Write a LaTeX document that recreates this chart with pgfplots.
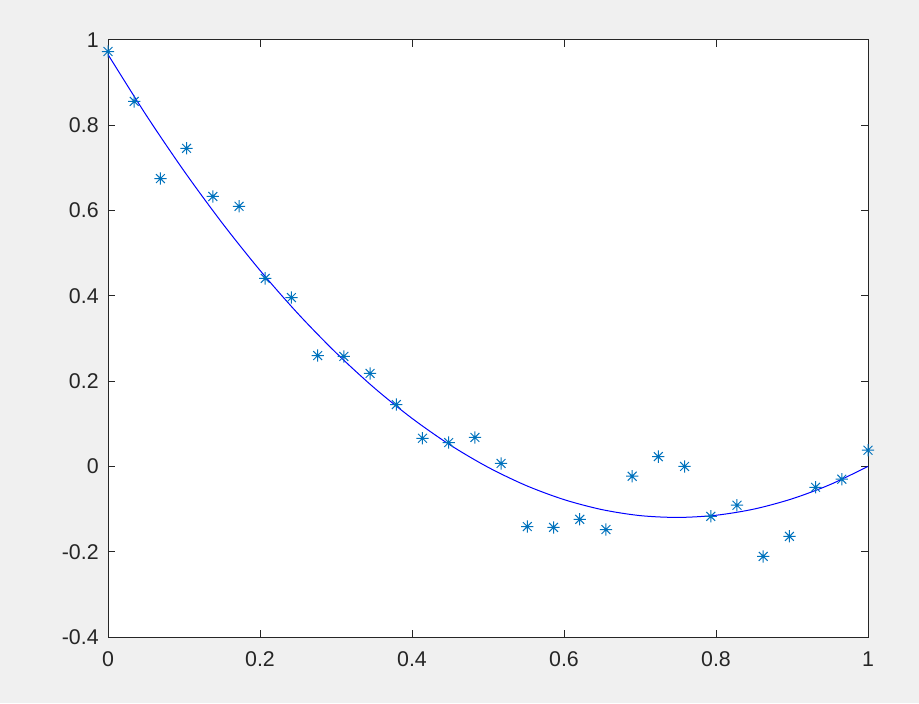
\documentclass[border=0pt]{standalone}
\usepackage{pgfplots}
\pgfplotsset{compat=1.18}
\usepackage{fontspec}
\setmainfont{Liberation Sans}

\definecolor{figbg}{RGB}{240,240,240}
\definecolor{axgray}{RGB}{38,38,38}
\definecolor{matblue}{RGB}{0,114,189}

% MATLAB-style '*' marker: plus and cross together
\pgfdeclareplotmark{matstar}{%
  \pgfpathmoveto{\pgfqpoint{-\pgfplotmarksize}{0pt}}
  \pgfpathlineto{\pgfqpoint{\pgfplotmarksize}{0pt}}
  \pgfpathmoveto{\pgfqpoint{0pt}{-\pgfplotmarksize}}
  \pgfpathlineto{\pgfqpoint{0pt}{\pgfplotmarksize}}
  \pgfpathmoveto{\pgfqpoint{-0.72\pgfplotmarksize}{-0.72\pgfplotmarksize}}
  \pgfpathlineto{\pgfqpoint{0.72\pgfplotmarksize}{0.72\pgfplotmarksize}}
  \pgfpathmoveto{\pgfqpoint{-0.72\pgfplotmarksize}{0.72\pgfplotmarksize}}
  \pgfpathlineto{\pgfqpoint{0.72\pgfplotmarksize}{-0.72\pgfplotmarksize}}
  \pgfusepathqstroke
}

\begin{document}
\begin{tikzpicture}
  \fill[figbg] (0,0) rectangle (689.25pt,527.25pt);
  \begin{axis}[
      at={(81pt,49.5pt)},
      anchor=south west,
      scale only axis,
      width=570pt,
      height=447.75pt,
      xmin=0, xmax=1,
      ymin=-0.4, ymax=1,
      xtick={0,0.2,0.4,0.6,0.8,1},
      ytick={-0.4,-0.2,0,0.2,0.4,0.6,0.8,1},
      /pgf/number format/assume math mode=true,
      xticklabels={0,0.2,0.4,0.6,0.8,1},
      yticklabels={-0.4,-0.2,0,0.2,0.4,0.6,0.8,1},
      tick align=inside,
      major tick length=5.25pt,
      tick style={axgray, line width=0.75pt},
      axis line style={axgray, line width=0.75pt},
      axis background/.style={fill=white},
      tick label style={font=\fontsize{16pt}{19pt}\selectfont, text=axgray},
      xticklabel style={yshift=-7.5pt},
      yticklabel style={xshift=-3.5pt},
      clip=false,
  ]
  \addplot[only marks, mark=matstar, mark size=4.6pt, color=matblue, line width=0.75pt]
      coordinates {
          (0.0000, 0.973)
          (0.0345, 0.856)
          (0.0690, 0.675)
          (0.1034, 0.746)
          (0.1379, 0.633)
          (0.1724, 0.610)
          (0.2069, 0.441)
          (0.2414, 0.396)
          (0.2759, 0.260)
          (0.3103, 0.258)
          (0.3448, 0.218)
          (0.3793, 0.145)
          (0.4138, 0.066)
          (0.4483, 0.056)
          (0.4828, 0.068)
          (0.5172, 0.007)
          (0.5517, -0.141)
          (0.5862, -0.143)
          (0.6207, -0.124)
          (0.6552, -0.148)
          (0.6897, -0.023)
          (0.7241, 0.023)
          (0.7586, 0.000)
          (0.7931, -0.117)
          (0.8276, -0.091)
          (0.8621, -0.211)
          (0.8966, -0.164)
          (0.9310, -0.049)
          (0.9655, -0.030)
          (1.0000, 0.038)
      };
  \addplot[color=blue, line width=0.75pt, smooth]
      coordinates {
          (0.00, 0.9660)
          (0.05, 0.8244)
          (0.10, 0.6929)
          (0.15, 0.5714)
          (0.20, 0.4598)
          (0.25, 0.3582)
          (0.30, 0.2666)
          (0.35, 0.1847)
          (0.40, 0.1128)
          (0.45, 0.0505)
          (0.50, -0.0019)
          (0.55, -0.0447)
          (0.60, -0.0778)
          (0.65, -0.1013)
          (0.70, -0.1153)
          (0.75, -0.1196)
          (0.80, -0.1145)
          (0.85, -0.1000)
          (0.90, -0.0760)
          (0.95, -0.0427)
          (1.00, 0.0000)
      };
  \end{axis}
\end{tikzpicture}
\end{document}
